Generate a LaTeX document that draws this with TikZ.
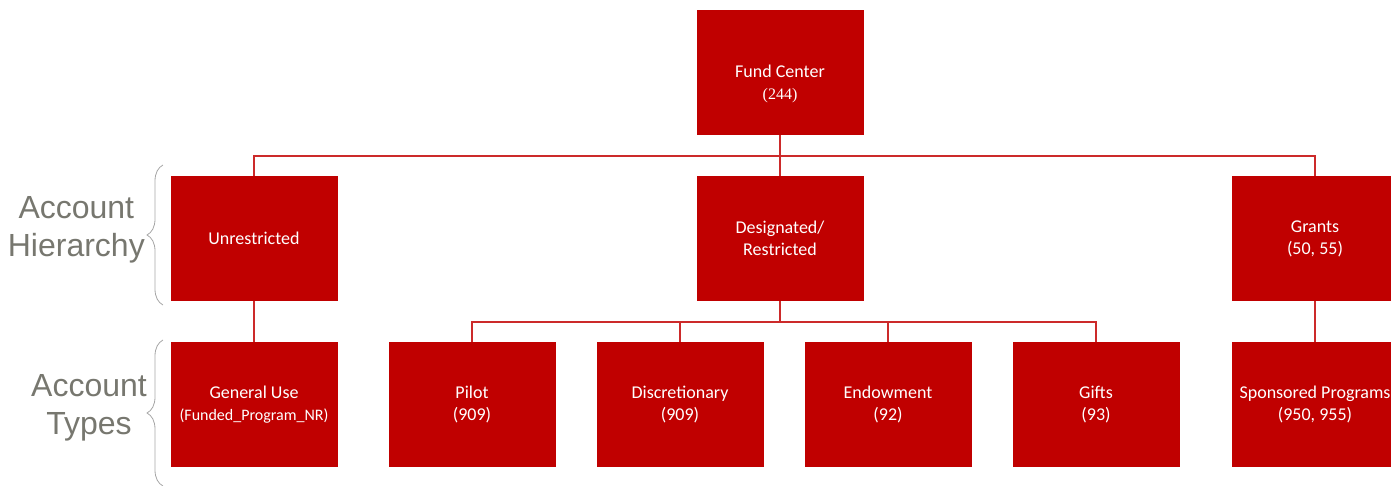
\documentclass[tikz,border=0pt]{standalone}
\usepackage{fontspec}
\usetikzlibrary{decorations.pathreplacing}
\newfontfamily\boxfont{Carlito}
\newfontfamily\labelfont{Liberation Sans}
\newfontfamily\numfont{Liberation Serif}
\definecolor{fundred}{HTML}{C00000}
\definecolor{linkred}{HTML}{CC2A2A}
\definecolor{labelgray}{HTML}{77776F}

\begin{document}
\begin{tikzpicture}[x=1pt,y=1pt,
  acct/.style={fill=fundred,text=white,minimum width=167pt,minimum height=125pt,
    inner sep=0pt,align=center,font=\boxfont\fontsize{18}{22}\selectfont},
  level distance=166pt,
  level 1/.style={sibling distance=530pt},
  level 2/.style={sibling distance=208pt},
  edge from parent/.style={draw=linkred,line width=1.6pt},
  edge from parent path={(\tikzparentnode.south) -- ([yshift=-21pt]\tikzparentnode.south)
    -| (\tikzchildnode.north)},
  tier/.style={text=labelgray,align=center,anchor=east,inner sep=1pt,
    font=\labelfont\fontsize{32}{38}\selectfont},
  tierbrace/.style={draw=gray!70,line width=0.8pt,decorate,decoration={brace,amplitude=16pt}}
  ]
  \useasboundingbox (0,0) rectangle (1391,485);
  \node[acct] (fund) at (780,412.5) {\rule{0pt}{14pt}\\Fund Center\\{\numfont\fontsize{16}{22}\selectfont(244)}}
    child[xshift=4pt] {node[acct] (unres) {Unrestricted}
      child {node[acct] (genuse) {General Use\\{\fontsize{16}{22}\selectfont(Funded\_Program\_NR)}}}
    }
    child {node[acct] (desig) {Designated/\\Restricted}
      child[xshift=4pt] {node[acct] (pilot) {Pilot\\(909)}}
      child[xshift=4pt] {node[acct] (discr) {Discretionary\\(909)}}
      child[xshift=4pt] {node[acct] (endow) {Endowment\\(92)}}
      child[xshift=4pt] {node[acct] (gifts) {Gifts\\(93)}}
    }
    child[xshift=5pt] {node[acct] (grants) {Grants\\(50, 55)}
      child {node[acct] (spons) {Sponsored Programs\\(950, 955)}}
    };
  % left hand labels
  \draw[tierbrace] (163,180) -- (163,320);
  \draw[tierbrace] (163,-1) -- (163,145);
  \node[tier] (hier) at (146,255) {Account\\Hierarchy};
  \node[tier] (types) at (148,77) {Account\\Types};
\end{tikzpicture}
\end{document}
